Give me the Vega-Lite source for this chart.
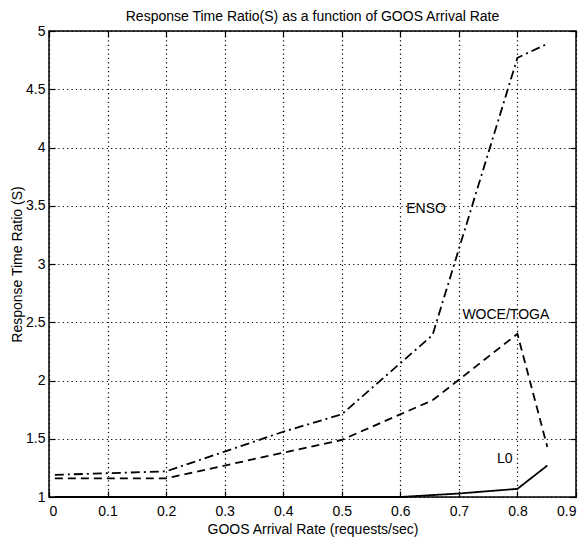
{
  "$schema": "https://vega.github.io/schema/vega-lite/v6.json",
  "width": 527,
  "height": 466,
  "autosize": "none",
  "padding": {"left": 49, "top": 31, "right": 8, "bottom": 40},
  "background": "white",
  "title": {
    "text": "Response Time Ratio(S) as a function of GOOS Arrival Rate",
    "font": "Liberation Sans",
    "fontSize": 14,
    "fontWeight": "normal",
    "color": "black",
    "anchor": "middle",
    "baseline": "bottom",
    "offset": -14
  },
  "config": {
    "view": {"stroke": "black", "strokeWidth": 1.5},
    "axis": {
      "labelFont": "Liberation Sans",
      "labelFontSize": 14,
      "labelColor": "black",
      "titleFont": "Liberation Sans",
      "titleFontSize": 14,
      "titleFontWeight": "normal",
      "titleColor": "black",
      "domain": false,
      "tickColor": "black",
      "tickWidth": 1.2,
      "tickSize": -6,
      "gridColor": "black",
      "gridOpacity": 1,
      "gridWidth": 1.2,
      "gridDash": [1.2, 3.2]
    }
  },
  "datasets": {
    "lines": [
      {"series": "ENSO", "rate": 0.01, "ratio": 1.19},
      {"series": "ENSO", "rate": 0.2, "ratio": 1.22},
      {"series": "ENSO", "rate": 0.3, "ratio": 1.39},
      {"series": "ENSO", "rate": 0.4, "ratio": 1.56},
      {"series": "ENSO", "rate": 0.5, "ratio": 1.71},
      {"series": "ENSO", "rate": 0.655, "ratio": 2.39},
      {"series": "ENSO", "rate": 0.8, "ratio": 4.77},
      {"series": "ENSO", "rate": 0.851, "ratio": 4.89},
      {"series": "WOCE/TOGA", "rate": 0.01, "ratio": 1.16},
      {"series": "WOCE/TOGA", "rate": 0.2, "ratio": 1.16},
      {"series": "WOCE/TOGA", "rate": 0.3, "ratio": 1.27},
      {"series": "WOCE/TOGA", "rate": 0.4, "ratio": 1.38},
      {"series": "WOCE/TOGA", "rate": 0.5, "ratio": 1.49},
      {"series": "WOCE/TOGA", "rate": 0.655, "ratio": 1.83},
      {"series": "WOCE/TOGA", "rate": 0.8, "ratio": 2.4},
      {"series": "WOCE/TOGA", "rate": 0.851, "ratio": 1.43},
      {"series": "L0", "rate": 0.01, "ratio": 1.0},
      {"series": "L0", "rate": 0.6, "ratio": 1.0},
      {"series": "L0", "rate": 0.7, "ratio": 1.03},
      {"series": "L0", "rate": 0.8, "ratio": 1.07},
      {"series": "L0", "rate": 0.851, "ratio": 1.27}
    ],
    "labels": [
      {"label": "ENSO", "rate": 0.61, "ratio": 3.47},
      {"label": "WOCE/TOGA", "rate": 0.706, "ratio": 2.56},
      {"label": "L0", "rate": 0.765, "ratio": 1.33}
    ]
  },
  "layer": [
    {
      "data": {"name": "lines"},
      "mark": {"type": "line", "color": "black", "strokeWidth": 1.8},
      "encoding": {
        "x": {
          "field": "rate", "type": "quantitative",
          "scale": {"domain": [0, 0.9], "nice": false, "zero": false},
          "axis": {"orient": "bottom", "values": [0, 0.1, 0.2, 0.3, 0.4, 0.5, 0.6, 0.7, 0.8, 0.9], "format": "~g", "grid": true, "labelPadding": 13, "title": "GOOS Arrival Rate (requests/sec)", "titlePadding": 4}
        },
        "y": {
          "field": "ratio", "type": "quantitative",
          "scale": {"domain": [1, 5], "nice": false, "zero": false},
          "axis": {"orient": "left", "values": [1, 1.5, 2, 2.5, 3, 3.5, 4, 4.5, 5], "format": "~g", "grid": true, "labelPadding": 10, "title": "Response Time Ratio (S)", "titlePadding": 1}
        },
        "strokeDash": {
          "field": "series", "type": "nominal",
          "scale": {"domain": ["ENSO", "WOCE/TOGA", "L0"], "range": [[9, 4, 2, 4], [8, 5], [1, 0]]},
          "legend": null
        }
      }
    },
    {
      "data": {"name": "labels"},
      "mark": {"type": "text", "align": "left", "baseline": "middle", "font": "Liberation Sans", "fontSize": 14, "color": "black"},
      "encoding": {
        "x": {
          "field": "rate", "type": "quantitative",
          "scale": {"domain": [0, 0.9], "nice": false, "zero": false},
          "axis": {"orient": "top", "values": [0, 0.1, 0.2, 0.3, 0.4, 0.5, 0.6, 0.7, 0.8, 0.9], "labels": false, "grid": false, "title": null}
        },
        "y": {
          "field": "ratio", "type": "quantitative",
          "scale": {"domain": [1, 5], "nice": false, "zero": false},
          "axis": {"orient": "right", "values": [1, 1.5, 2, 2.5, 3, 3.5, 4, 4.5, 5], "labels": false, "grid": false, "title": null}
        },
        "text": {"field": "label"}
      }
    }
  ],
  "resolve": {"axis": {"x": "independent", "y": "independent"}}
}
